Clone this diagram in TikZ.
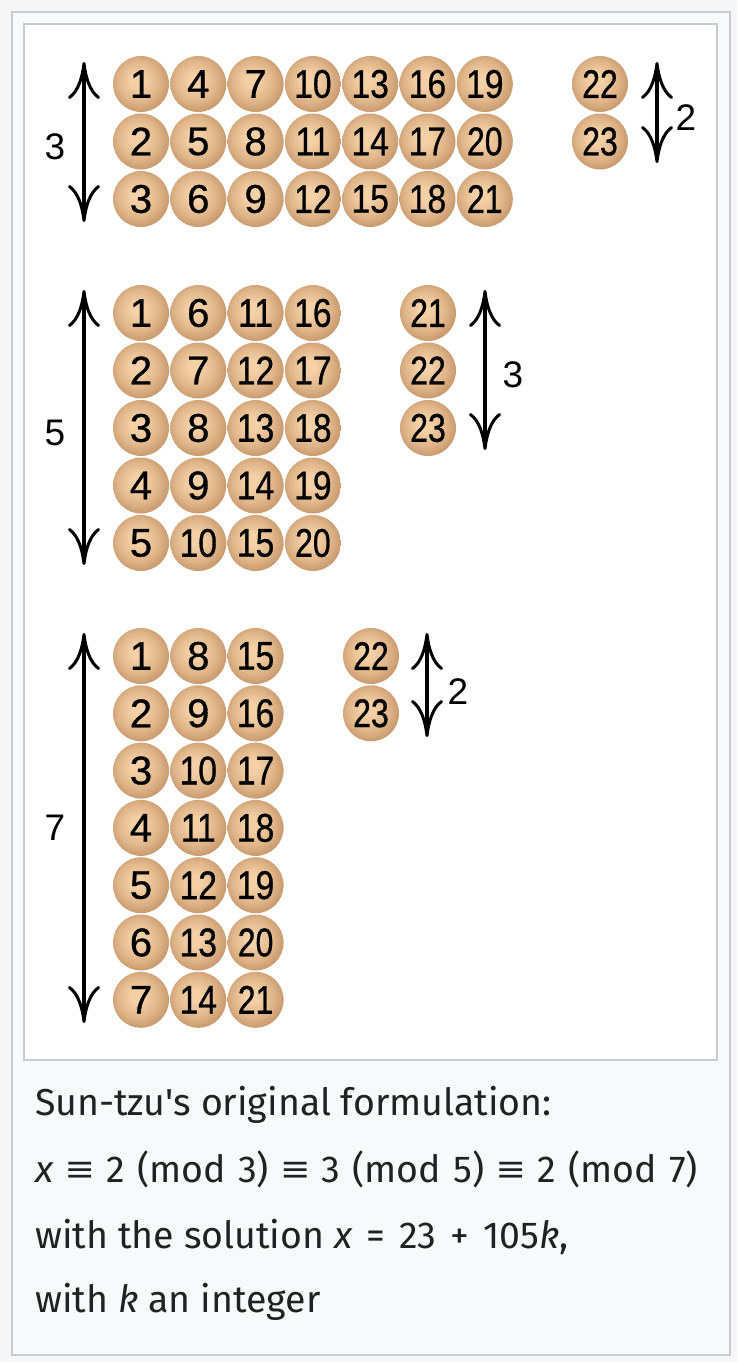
\documentclass[tikz,border=0pt]{standalone}
\usepackage{fontspec}
\usepackage{graphicx}
\usetikzlibrary{arrows.meta}
\newfontfamily\ballfont[FakeBold=0.8]{Liberation Sans}
\newfontfamily\labfont{Liberation Sans}
\newfontfamily\capfont{Fira Sans}
\definecolor{pagebg}{RGB}{246,246,246}
\definecolor{framebg}{RGB}{248,249,250}
\definecolor{frameline}{RGB}{200,204,209}
\definecolor{ballhi}{RGB}{244,208,166}
\definecolor{ballmid}{RGB}{224,182,138}
\definecolor{balledge}{RGB}{200,154,110}
\definecolor{ballrim}{RGB}{192,146,104}
\definecolor{captext}{RGB}{32,33,34}
\pgfdeclareradialshading{tanball}{\pgfpoint{-4bp}{4bp}}{%
  color(0bp)=(ballhi); color(6bp)=(ballhi); color(18bp)=(ballmid);
  color(27bp)=(balledge); color(30bp)=(ballrim); color(50bp)=(ballrim)}
\newcommand\ballnum[1]{\ifnum#1>19 \scalebox{0.80}[1]{#1}\else\ifnum#1>9 \scalebox{0.84}[1]{#1}\else #1\fi\fi}
\newcommand\eqv{\scalebox{1.25}[1]{\labfont ≡}}
\tikzset{
  ball/.style={circle, minimum size=56pt, inner sep=0pt, shading=tanball,
    font=\ballfont\fontsize{40}{40}\selectfont},
  countlabel/.style={font=\labfont\fontsize{37}{37}\selectfont, inner sep=0pt},
  dimarrow/.style={line width=4pt,
    {Computer Modern Rightarrow[length=37pt,width=32pt,line width=3pt]}-{Computer Modern Rightarrow[length=37pt,width=32pt,line width=3pt]}},
  captionline/.style={anchor=base west, inner sep=0pt, text=captext,
    font=\capfont\fontsize{37.5}{37.5}\selectfont}
}
\begin{document}
\begin{tikzpicture}[x=1pt,y=-1pt]
\useasboundingbox (0,0) rectangle (737,1362);
\fill[pagebg] (0,0) rectangle (737,1362);
\filldraw[fill=framebg, draw=frameline, line width=2pt] (12,12) rectangle (730,1355);
\filldraw[fill=white, draw=frameline, line width=1.5pt] (24,24) rectangle (717,1060);

% group 1: mod 3
\foreach \c in {0,...,6}{\foreach \r in {0,1,2}{
  \pgfmathtruncatemacro\n{\c*3+\r+1}
  \node[ball] (a\n) at ({141+57.3*\c},{84+57.5*\r}) {\ballnum{\n}};
}}
\node[ball] (a22) at (600,84) {\ballnum{22}};
\node[ball] (a23) at (600,141.5) {\ballnum{23}};
\coordinate (a1t) at (84,62);
\coordinate (a1b) at (84,222);
\draw[dimarrow] (a1t) -- (a1b);
\node[countlabel] (a1l) at (55,147) {3};
\coordinate (a2t) at (657,62);
\coordinate (a2b) at (657,163);
\draw[dimarrow] (a2t) -- (a2b);
\node[countlabel] (a2l) at (686,118) {2};

% group 2: mod 5
\foreach \c in {0,...,3}{\foreach \r in {0,...,4}{
  \pgfmathtruncatemacro\n{\c*5+\r+1}
  \node[ball] (b\n) at ({141+57.3*\c},{313+57.5*\r}) {\ballnum{\n}};
}}
\foreach \r in {0,1,2}{
  \pgfmathtruncatemacro\n{21+\r}
  \node[ball] (b\n) at (428,{313+57.5*\r}) {\ballnum{\n}};
}
\coordinate (b1t) at (84,290);
\coordinate (b1b) at (84,565);
\draw[dimarrow] (b1t) -- (b1b);
\node[countlabel] (b1l) at (55,433) {5};
\coordinate (b2t) at (485,290);
\coordinate (b2b) at (485,450);
\draw[dimarrow] (b2t) -- (b2b);
\node[countlabel] (b2l) at (513,375) {3};

% group 3: mod 7
\foreach \c in {0,1,2}{\foreach \r in {0,...,6}{
  \pgfmathtruncatemacro\n{\c*7+\r+1}
  \node[ball] (c\n) at ({141+57.3*\c},{656+57.3*\r}) {\ballnum{\n}};
}}
\node[ball] (c22) at (371,656) {\ballnum{22}};
\node[ball] (c23) at (371,713.3) {\ballnum{23}};
\coordinate (c1t) at (84,633);
\coordinate (c1b) at (84,1023);
\draw[dimarrow] (c1t) -- (c1b);
\node[countlabel] (c1l) at (55,828) {7};
\coordinate (c2t) at (427,633);
\coordinate (c2b) at (427,737);
\draw[dimarrow] (c2t) -- (c2b);
\node[countlabel] (c2l) at (458,692) {2};

% caption
\node[captionline] (cap1) at (35,1115) {Sun-tzu's original formulation:};
\node[captionline] (cap2) at (35,1182) {\spaceskip=12.5pt\textit{x} \eqv{} 2 (mod 3) \eqv{} 3 (mod 5) \eqv{} 2 (mod 7)};
\node[captionline] (cap3) at (35,1248) {with the solution \textit{x}\hspace{14pt}=\hspace{14pt}23\hspace{14pt}+\hspace{14pt}105\textit{k},};
\node[captionline] (cap4) at (35,1312) {with \textit{k} an integer};
\end{tikzpicture}
\end{document}
